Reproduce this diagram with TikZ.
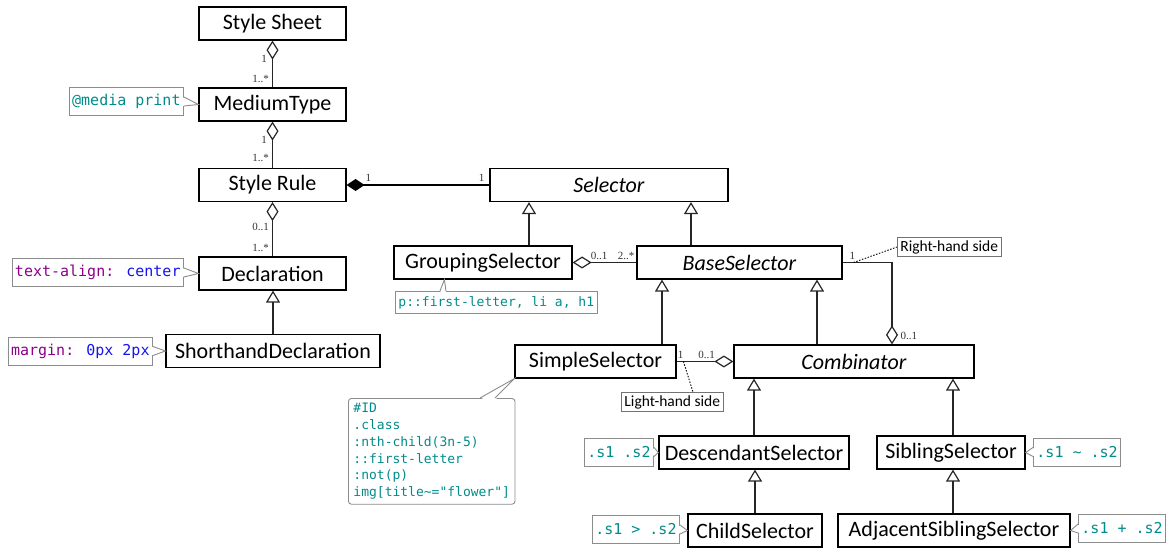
\documentclass[tikz,border=0pt]{standalone}
\usepackage{fontspec}
\setmainfont{Carlito}
\newfontfamily\codefont{DejaVu Sans Mono}
\newfontfamily\multfont{Liberation Serif}
\usetikzlibrary{arrows.meta, calc}
\definecolor{codeteal}{RGB}{0,140,140}
\definecolor{codepurple}{RGB}{140,0,140}
\definecolor{codeblue}{RGB}{20,20,240}
\tikzstyle{class} = [rectangle, draw=black, line width=1.2pt, minimum height=33pt, inner sep=0pt, font=\fontsize{22}{26}\selectfont]
\tikzstyle{note} = [rectangle, draw=black!45, line width=0.9pt, fill=white, inner sep=3pt, minimum height=28pt, text=codeteal, font=\codefont\fontsize{15}{18}\selectfont]
\tikzstyle{tag} = [rectangle, draw=black!55, line width=0.9pt, inner sep=3pt, font=\fontsize{15.5}{18}\selectfont]
\tikzstyle{mult} = [inner sep=1pt, text=black!80, font=\multfont\fontsize{11}{13}\selectfont]
\tikzstyle{edge} = [line width=1.2pt, draw=black!85]
\tikzstyle{inherit} = [edge, -{Triangle[open, length=12pt, width=14pt]}]
\tikzstyle{aggr} = [edge, -{Diamond[open, length=19pt, width=12pt]}]
\tikzstyle{comp} = [line width=2pt, draw=black, -{Diamond[length=18pt, width=12pt]}]
\tikzstyle{ptr} = [draw=black!45, line width=0.9pt]
\tikzstyle{hint} = [line width=0.9pt, dash pattern=on 1.5pt off 1.5pt]

\begin{document}
\begin{tikzpicture}[x=1pt, y=-1pt]
\useasboundingbox (0,0) rectangle (1171,548);

\node (0) [class, minimum width=147pt] at (272.5,23.5) {Style Sheet};
\node (1) [class, minimum width=147pt] at (272.5,104.5) {MediumType};
\node (2) [class, minimum width=147pt] at (272.5,185) {Style Rule};
\node (3) [class, minimum width=147pt] at (272.5,273.5) {Declaration};
\node (4) [class, minimum width=214pt] at (273,351) {ShorthandDeclaration};
\node (5) [class, minimum width=238pt] at (609,185) {\textit{Selector}};
\node (6) [class, minimum width=178pt] at (483,262.5) {GroupingSelector};
\node (7) [class, minimum width=205pt] at (739.5,262.5) {\textit{BaseSelector}};
\node (8) [class, minimum width=161pt] at (595.5,361.5) {SimpleSelector};
\node (9) [class, minimum width=240pt] at (854,361.5) {\textit{Combinator}};
\node (10) [class, minimum width=190pt] at (754,452.5) {DescendantSelector};
\node (11) [class, minimum width=148pt] at (951,452.5) {SiblingSelector};
\node (12) [class, minimum width=134pt] at (755,530.5) {ChildSelector};
\node (13) [class, minimum width=232pt] at (954,530.5) {AdjacentSiblingSelector};

\node (n0) [note, anchor=east] at (184,101.5) {@media print};
\node (n1) [note, anchor=east] at (184,272.5) {\textcolor{codepurple}{text-align:} \textcolor{codeblue}{center}};
\node (n2) [note, anchor=east] at (153,351) {\textcolor{codepurple}{margin:} \textcolor{codeblue}{0px 2px}};
\node (n3) [note, anchor=north west, minimum height=22pt, font=\codefont\fontsize{13}{15}\selectfont] at (395,291) {p::first-letter, li a, h1};
\node (n4) [note, anchor=north west, rounded corners=3pt, align=left, inner sep=5pt, font=\codefont\fontsize{13}{16.7}\selectfont] at (348,398) {\#ID\\.class\\:nth-child(3n-5)\\::first-letter\\:not(p)\\img[title\textasciitilde="flower"]};
\node (n5) [note, anchor=east] at (654,452) {.s1 .s2};
\node (n6) [note, anchor=west] at (1033,452) {.s1 \textasciitilde{} .s2};
\node (n7) [note, anchor=east] at (680,529.5) {.s1 > .s2};
\node (n8) [note, anchor=west] at (1078,528.5) {.s1 + .s2};
\node (r) [tag, anchor=west] at (897,247) {Right-hand side};
\node (l) [tag, anchor=north west] at (621,392) {Light-hand side};

\coordinate (i6) at ($(6.north)+(46,0)$);
\coordinate (i7) at ($(7.north)+(-48.5,0)$);
\coordinate (i8) at ($(8.north)+(66.5,0)$);
\coordinate (i9) at ($(9.north)+(-37,0)$);
\coordinate (i11) at ($(11.north)+(2,0)$);
\coordinate (i13) at ($(13.north)+(-1,0)$);
\coordinate (a9) at ($(9.north)+(38,0)$);

\draw [aggr] (1) -- node[mult, pos=0.17, anchor=east, xshift=-2pt]{1..*} node[mult, pos=0.6, anchor=east, xshift=-4pt]{1} (0);
\draw [aggr] (2) -- node[mult, pos=0.21, anchor=east, xshift=-2pt]{1..*} node[mult, pos=0.6, anchor=east, xshift=-4pt]{1} (1);
\draw [aggr] (3) -- node[mult, pos=0.16, anchor=east, xshift=-2pt]{1..*} node[mult, pos=0.55, anchor=east, xshift=-2pt]{0..1} (2);
\draw [comp] (5) -- node[mult, pos=0.055, anchor=south, yshift=1pt]{1} node[mult, pos=0.847, anchor=south, yshift=1pt]{1} (2);
\draw [aggr] (7) -- node[mult, pos=0.16, anchor=south, yshift=1pt]{2..*} node[mult, pos=0.585, anchor=south, yshift=1pt]{0..1} (6);
\draw [aggr] (7.east) -| coordinate[pos=0.11] (rh) node[mult, pos=0.1, anchor=south, yshift=1pt]{1} node[mult, pos=0.95, anchor=west, xshift=7pt]{0..1} (a9);
\draw [aggr] (8) -- coordinate[pos=0.12] (lh) node[mult, pos=0.07, anchor=south, yshift=1pt]{1} node[mult, pos=0.53, anchor=south, yshift=1pt]{0..1} (9);

\draw [inherit] (4.north) -- (4.north |- 3.south);
\draw [inherit] (i6) -- (i6 |- 5.south);
\draw [inherit] (i7) -- (i7 |- 5.south);
\draw [inherit] (i8) -- (i8 |- 7.south);
\draw [inherit] (i9) -- (i9 |- 7.south);
\draw [inherit] (10.north) -- (10.north |- 9.south);
\draw [inherit] (i11) -- (i11 |- 9.south);
\draw [inherit] (12.north) -- (12.north |- 10.south);
\draw [inherit] (i13) -- (i13 |- 11.south);

\draw [hint] (rh) -- (r.west);
\draw [hint] (lh) -- ($(l.north west)+(72,0)$);

\fill [white] ($(n0.east)+(-2,-4.5)$) -- (1.west) -- ($(n0.east)+(-2,4.5)$) -- cycle;
\draw [ptr] ($(n0.east)+(0,-4.5)$) -- (1.west) -- ($(n0.east)+(0,4.5)$);
\fill [white] ($(n1.east)+(-2,-4.5)$) -- (3.west) -- ($(n1.east)+(-2,4.5)$) -- cycle;
\draw [ptr] ($(n1.east)+(0,-4.5)$) -- (3.west) -- ($(n1.east)+(0,4.5)$);
\fill [white] ($(n2.east)+(-2,-4.5)$) -- (4.west) -- ($(n2.east)+(-2,4.5)$) -- cycle;
\draw [ptr] ($(n2.east)+(0,-4.5)$) -- (4.west) -- ($(n2.east)+(0,4.5)$);
\fill [white] ($(n3.north west)+(45,2)$) -- ($(6.south west)+(51,0)$) -- ($(n3.north west)+(51,2)$) -- cycle;
\draw [ptr] ($(n3.north west)+(45,0)$) -- ($(6.south west)+(51,0)$) -- ($(n3.north west)+(51,0)$);
\fill [white] ($(n4.north west)+(132,2)$) -- (8.south west) -- ($(n4.north west)+(147,2)$) -- cycle;
\draw [ptr] ($(n4.north west)+(132,0)$) -- (8.south west) -- ($(n4.north west)+(147,0)$);
\fill [white] ($(n5.east)+(-2,-4.5)$) -- (10.west) -- ($(n5.east)+(-2,4.5)$) -- cycle;
\draw [ptr] ($(n5.east)+(0,-4.5)$) -- (10.west) -- ($(n5.east)+(0,4.5)$);
\fill [white] ($(n6.west)+(2,-4.5)$) -- (11.east) -- ($(n6.west)+(2,4.5)$) -- cycle;
\draw [ptr] ($(n6.west)+(0,-4.5)$) -- (11.east) -- ($(n6.west)+(0,4.5)$);
\fill [white] ($(n7.east)+(-2,-4.5)$) -- (12.west) -- ($(n7.east)+(-2,4.5)$) -- cycle;
\draw [ptr] ($(n7.east)+(0,-4.5)$) -- (12.west) -- ($(n7.east)+(0,4.5)$);
\fill [white] ($(n8.west)+(2,-4.5)$) -- (13.east) -- ($(n8.west)+(2,4.5)$) -- cycle;
\draw [ptr] ($(n8.west)+(0,-4.5)$) -- (13.east) -- ($(n8.west)+(0,4.5)$);

\end{tikzpicture}
\end{document}
